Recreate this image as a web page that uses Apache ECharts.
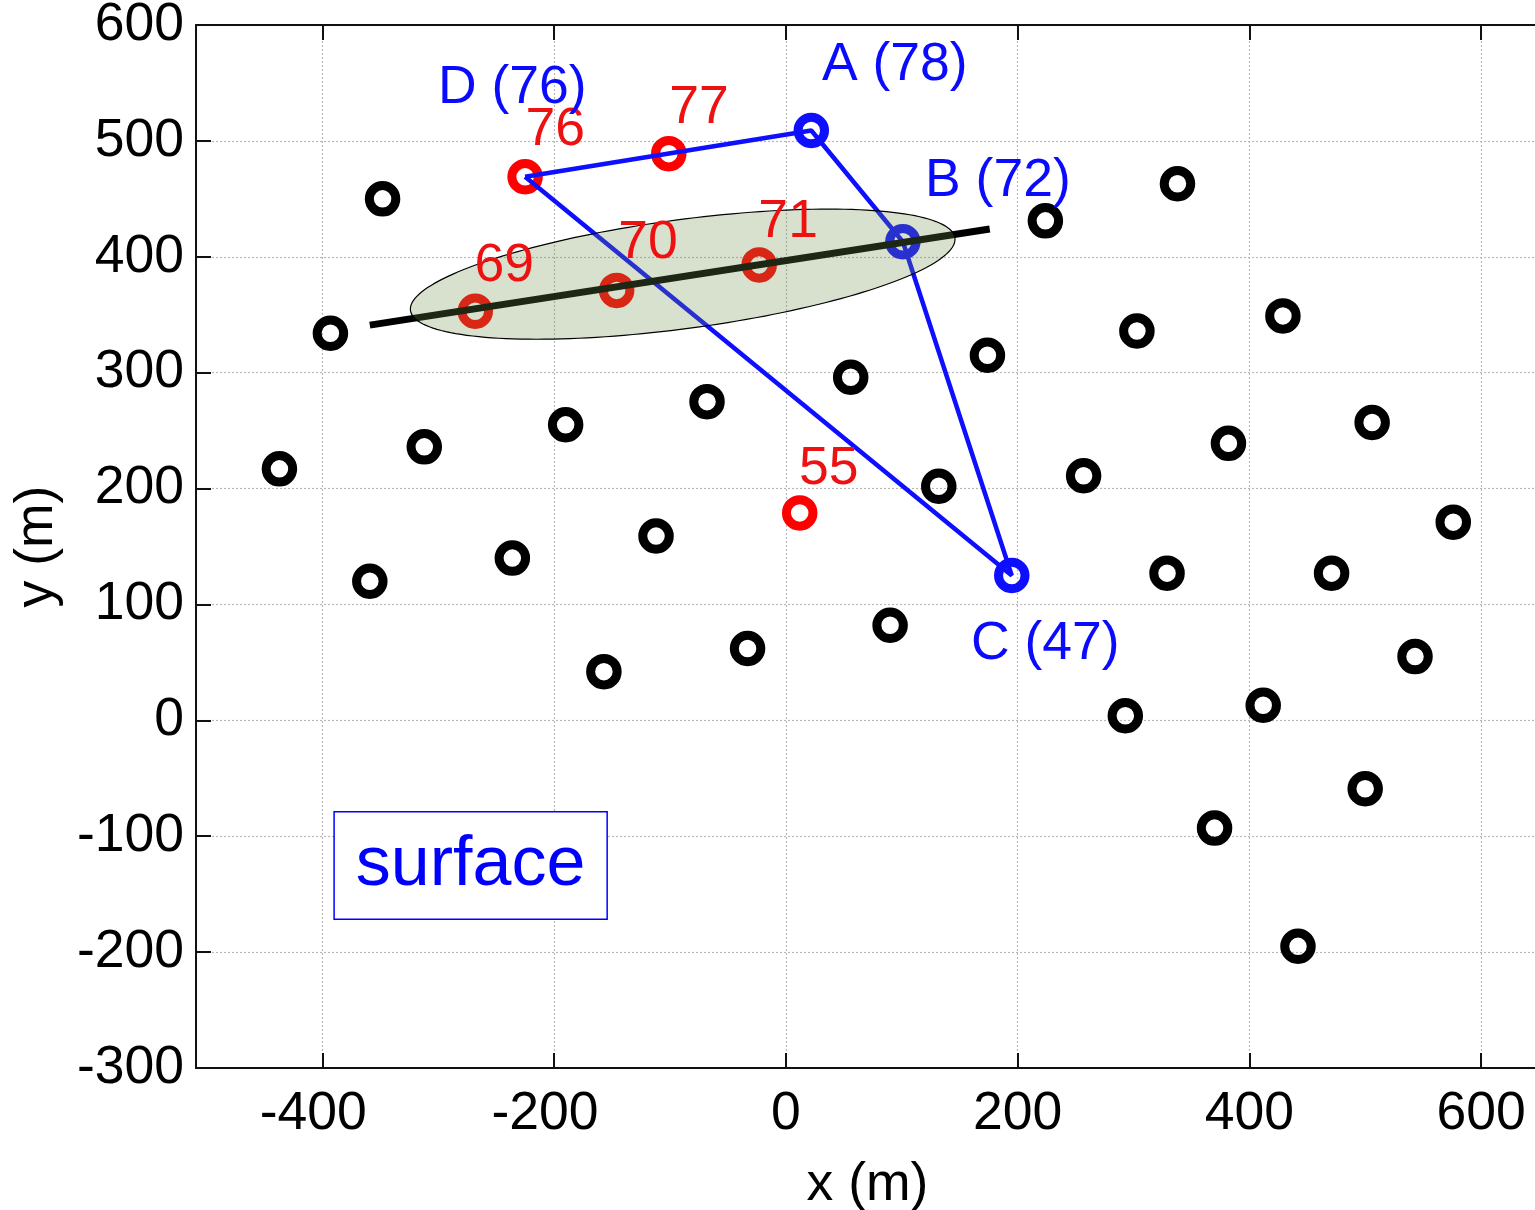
<!DOCTYPE html>
<html><head><meta charset="utf-8">
<script src="https://cdn.jsdelivr.net/npm/echarts@6/dist/echarts.min.js"></script>
<style>html,body{margin:0;padding:0;background:#fff;overflow:hidden}#c{width:1535px;height:1210px}</style>
</head><body><div id="c"></div>
<script>
// ---------- data ----------
const xRange = [-509, 650];
const yRange = [-300, 600];
const blackPoints = [
  [-348,450],[-393,334],[-437,217],[-312,236],[-359,120],[-190,255],[-236,140],
  [-157,42],[-112,159],[-68,275],[-33,62],[56,296],[90,82],[132,202],[174,315],
  [224,431],[257,211],[303,336],[338,463],[293,4],[329,127],[382,239],[429,349],
  [370,-93],[412,13],[442,-195],[471,127],[500,-59],[506,257],[543,55],[576,171]
];
const redPoints = [[-225,469],[-101,489],[-268,353],[-146,371],[-23,393],[12,179]];
const redLabels = ['76','77','69','70','71','55'];
const redLabelAnchors = [[-199,509],[-75,528],[-243,392],[-119,412],[2,430],[37,217]];
const bluePoints = [[22,509],[101,413],[195,125]];
const blueLabels = ['A (78)','B (72)','C (47)','D (76)'];
const blueLabelAnchors = [[94,565],[183,465],[224,66],[-236,545]];
const pathDABCD = [[-225,469],[22,509],[101,413],[195,125],[-225,469]];
const fitLine = [[-359,341],[176,424]];
const ellipseCenter = [-89,385];
const ellipseSemiAxes = [237,47];
const ellipseAngleDeg = 7.6;
const boxLabel = 'surface';
const boxLabelAnchor = [-272,-125.3];
const xAxisName = 'x (m)';
const yAxisName = 'y (m)';

// ---------- chart ----------
const FONT = "'Liberation Sans', Arial, Helvetica, sans-serif";
const FS = 53.5;
const chart = echarts.init(document.getElementById('c'), null, {renderer:'canvas'});

function ring(color, data, z) {
  return {
    type:'scatter', data:data, symbol:'circle', symbolSize:26.5, z:z, silent:true,
    itemStyle:{color:'rgba(0,0,0,0)', borderColor:color, borderWidth:9, opacity:1},
    emphasis:{disabled:true}
  };
}
function labels(texts, anchors, color, z, extra) {
  return {
    type:'scatter', z:z, silent:true, symbol:'circle', symbolSize:1,
    itemStyle:{color:'rgba(0,0,0,0)', opacity:1},
    data: texts.map((t,i)=>({name:t, value:anchors[i]})),
    label:Object.assign({show:true, position:'inside', formatter:p=>p.name,
      color:color, fontSize:FS, fontFamily:FONT, align:'center', verticalAlign:'middle'}, extra||{}),
    emphasis:{disabled:true}
  };
}

const option = {
  animation:false,
  backgroundColor:'#fff',
  grid:{left:196, top:25, width:1343, height:1043, containLabel:false, outerBoundsMode:'none'},
  xAxis:[{
    type:'value', min:xRange[0], max:xRange[1], position:'bottom',
    name:xAxisName, nameLocation:'middle', nameGap:90,
    nameTextStyle:{fontSize:FS, fontFamily:FONT, color:'#000'},
    axisLine:{show:true, onZero:false, lineStyle:{color:'#111', width:2}},
    axisTick:{show:true, inside:true, length:15, lineStyle:{color:'#111', width:2}},
    axisLabel:{show:true, margin:19, fontSize:FS, fontFamily:FONT, color:'#000',
      showMinLabel:false, showMaxLabel:false,
      formatter:v=> (Math.abs(v % 200) < 1e-6 ? (v < 0 ? '{n|' + v + '}' : String(v)) : ''),
      rich:{n:{fontSize:FS, fontFamily:FONT, color:'#000', padding:[0,18,0,0]}}},
    splitLine:{show:true, lineStyle:{color:'#b8b8b8', width:1.2, type:[2,2]}}
  },{
    type:'value', min:xRange[0], max:xRange[1], position:'top',
    axisLine:{show:true, onZero:false, lineStyle:{color:'#111', width:2}},
    axisTick:{show:true, inside:true, length:15, lineStyle:{color:'#111', width:2}},
    axisLabel:{show:false}, splitLine:{show:false}
  }],
  yAxis:[{
    type:'value', min:yRange[0], max:yRange[1], interval:100, position:'left',
    name:yAxisName, nameLocation:'middle', nameGap:132, nameRotate:90,
    nameTextStyle:{fontSize:FS, fontFamily:FONT, color:'#000'},
    axisLine:{show:true, onZero:false, lineStyle:{color:'#111', width:2}},
    axisTick:{show:true, inside:true, length:15, lineStyle:{color:'#111', width:2}},
    axisLabel:{show:true, margin:12, fontSize:FS, fontFamily:FONT, color:'#000'},
    splitLine:{show:true, lineStyle:{color:'#b8b8b8', width:1.2, type:[2,2]}}
  }],
  series:[
    ring('#000000', blackPoints, 2),
    ring('#ff0000', redPoints, 2),
    ring('#0f0fff', bluePoints, 2),
    {type:'line', data:pathDABCD, z:3, symbol:'none', silent:true,
     lineStyle:{color:'#0f0fff', width:4.5, opacity:1}},
    {type:'line', data:fitLine, z:4, symbol:'none', silent:true,
     lineStyle:{color:'#000', width:7, opacity:1}},
    {type:'custom', z:5, silent:true, data:[ellipseCenter],
     renderItem:function(params, api){
       const th = ellipseAngleDeg*Math.PI/180;
       const a = ellipseSemiAxes[0], b = ellipseSemiAxes[1];
       const cx = api.value(0), cy = api.value(1);
       const pts = [];
       for (let k=0;k<180;k++){
         const t = 2*Math.PI*k/180;
         const lx = a*Math.cos(t), ly = b*Math.sin(t);
         pts.push(api.coord([cx + lx*Math.cos(th) - ly*Math.sin(th), cy + lx*Math.sin(th) + ly*Math.cos(th)]));
       }
       return {type:'polygon', shape:{points:pts},
         style:{fill:'rgba(112,145,75,0.27)', stroke:'#000', lineWidth:1.2}};
     }},
    labels(redLabels, redLabelAnchors, '#ee1111', 10),
    labels(blueLabels, blueLabelAnchors, '#0a0aff', 10),
    labels([boxLabel], [boxLabelAnchor], '#0000ff', 10,
      {fontSize:70, lineHeight:70, padding:[21,21,15,21], borderColor:'#0000ff', borderWidth:1.5,
       backgroundColor:'#fff'})
  ]
};
chart.setOption(option);
</script>
</body></html>
